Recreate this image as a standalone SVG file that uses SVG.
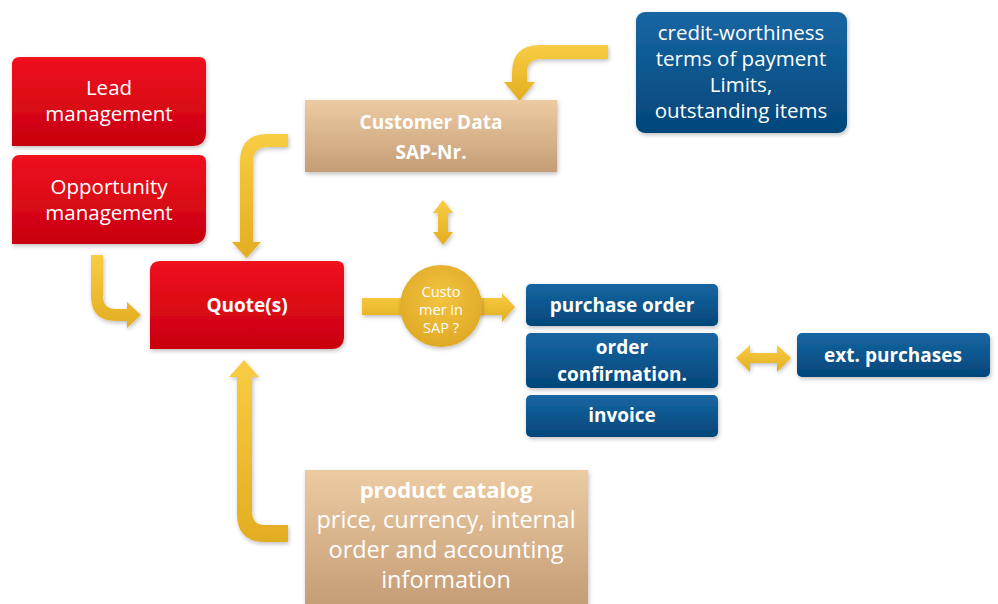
<svg xmlns="http://www.w3.org/2000/svg" width="998" height="604" viewBox="0 0 998 604">
<defs>
<linearGradient id="gRed" x1="0" y1="0" x2="0" y2="1"><stop offset="0" stop-color="#f0121f"/><stop offset="1" stop-color="#c8000f"/></linearGradient>
<linearGradient id="gBlue" x1="0" y1="0" x2="0" y2="1"><stop offset="0" stop-color="#1766a3"/><stop offset="1" stop-color="#034679"/></linearGradient>
<linearGradient id="gTan" x1="0" y1="0" x2="0" y2="1"><stop offset="0" stop-color="#eccba3"/><stop offset="1" stop-color="#c59d77"/></linearGradient>
<linearGradient id="gGold" x1="0" y1="0" x2="0" y2="1"><stop offset="0" stop-color="#f8cd42"/><stop offset="1" stop-color="#e3ad22"/></linearGradient>
<radialGradient id="gCirc" cx="0.5" cy="0.4" r="0.6"><stop offset="0" stop-color="#f3c440"/><stop offset="1" stop-color="#dfa926"/></radialGradient>
<filter id="sh" x="-10%" y="-10%" width="130%" height="130%"><feDropShadow dx="1" dy="2" stdDeviation="2" flood-color="#000" flood-opacity="0.25"/></filter>
</defs>
<style>
.red{fill:url(#gRed);filter:url(#sh)}
.blue{fill:url(#gBlue);filter:url(#sh)}
.tan{fill:url(#gTan);filter:url(#sh)}
.arr{fill:url(#gGold);filter:url(#sh)}
text{font-family:"Open Sans","Liberation Sans",sans-serif;fill:#fff;text-anchor:middle}
.t{font-size:20.5px}
.b{font-size:19px;font-weight:bold}
.c{font-size:14.5px}
.p{font-size:23.5px}
</style>
<rect width="998" height="604" fill="#fff"/>
<g id="connectors">
<path class="arr" d="M608,45 L540,45 Q512,45 512,73 L512,82 L504,82 L519.5,101 L535,82 L527,82 L527,73 Q527,59 541,59 L608,59 Z"/>
<path class="arr" d="M288,134 L268,134 Q240,134 240,162 L240,242 L232,242 L246.5,258 L261,242 L253,242 L253,162 Q253,147 268,147 L288,147 Z"/>
<path class="arr" d="M443,200 L453,213 L448,213 L448,232 L453,232 L443,245 L433,232 L438,232 L438,213 L433,213 Z"/>
<path class="arr" d="M91,255 L103,255 L103,296 Q103,309 116,309 L127,309 L127,302 L141,315 L127,328 L127,321 L116,321 Q91,321 91,296 Z"/>
<path class="arr" d="M362,298 L502,298 L502,293 L515,307 L502,322 L502,315 L362,315 Z"/>
<path class="arr" d="M736,358 L750,345 L750,353 L777,353 L777,345 L791,358 L777,372 L777,363 L750,363 L750,372 Z"/>
<path class="arr" d="M244,360 L259,377 L252,377 L252,512 Q252,525 265,525 L288,525 L288,542 L265,542 Q237,542 237,514 L237,377 L229,377 Z"/>
</g>
<g id="lead">
<path class="red" d="M20,57 L199,57 Q206,57 206,64 L206,132 Q206,146 192,146 L12,146 L12,65 Q12,57 20,57 Z"/>
<text class="t" x="109" y="95">Lead</text>
<text class="t" x="109" y="121">management</text>
</g>
<g id="opportunity">
<path class="red" d="M20,155 L199,155 Q206,155 206,162 L206,230 Q206,244 192,244 L12,244 L12,163 Q12,155 20,155 Z"/>
<text class="t" x="109" y="194">Opportunity</text>
<text class="t" x="109" y="220">management</text>
</g>
<g id="quote">
<path class="red" d="M160,261 L337,261 Q344,261 344,268 L344,336 Q344,349 331,349 L150,349 L150,271 Q150,261 160,261 Z"/>
<text class="b" x="247" y="312">Quote(s)</text>
</g>
<g id="customer-data">
<rect class="tan" x="305" y="100" width="252" height="72"/>
<text class="b" x="431" y="129">Customer Data</text>
<text class="b" x="431" y="159">SAP-Nr.</text>
</g>
<g id="credit">
<rect class="blue" x="636" y="12" width="211" height="121" rx="9"/>
<text class="t" x="741" y="40">credit-worthiness</text>
<text class="t" x="741" y="66">terms of payment</text>
<text class="t" x="741" y="92">Limits,</text>
<text class="t" x="741" y="118">outstanding items</text>
</g>
<g id="customer-in-sap">
<circle cx="441" cy="306" r="41" fill="url(#gCirc)" filter="url(#sh)"/>
<text class="c" x="441" y="297">Custo</text>
<text class="c" x="441" y="315">mer in</text>
<text class="c" x="441" y="333">SAP ?</text>
</g>
<g id="purchase-order">
<rect class="blue" x="526" y="284" width="192" height="42" rx="5"/>
<text class="b" x="622" y="312">purchase order</text>
</g>
<g id="order-confirmation">
<rect class="blue" x="526" y="333" width="192" height="55" rx="5"/>
<text class="b" x="622" y="354">order</text>
<text class="b" x="622" y="381">confirmation.</text>
</g>
<g id="invoice">
<rect class="blue" x="526" y="395" width="192" height="42" rx="5"/>
<text class="b" x="622" y="422">invoice</text>
</g>
<g id="ext-purchases">
<rect class="blue" x="797" y="333" width="193" height="44" rx="5"/>
<text class="b" x="893" y="362">ext. purchases</text>
</g>
<g id="product-catalog">
<rect class="tan" x="305" y="470" width="283" height="134"/>
<text class="b" x="446" y="498" style="font-size:22px">product catalog</text>
<text class="p" x="446" y="528">price, currency, internal</text>
<text class="p" x="446" y="558">order and accounting</text>
<text class="p" x="446" y="588">information</text>
</g>
</svg>
